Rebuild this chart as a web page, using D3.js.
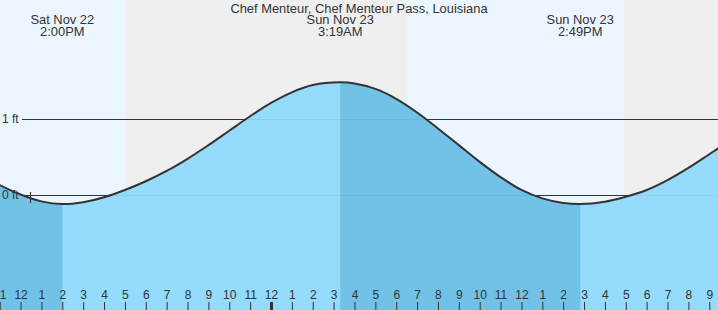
<!DOCTYPE html>
<html>
<head>
<meta charset="utf-8">
<script src="https://cdn.jsdelivr.net/npm/d3@7"></script>
<style>
  html, body { margin: 0; padding: 0; background: #fff; }
  svg { display: block; font-family: "Liberation Sans", Arial, sans-serif; }
  text { fill: #333; }
</style>
</head>
<body>
<svg id="chart" width="718" height="310"></svg>
<script>
// hours are counted from midnight, Sun Nov 23
var title = "Chef Menteur, Chef Menteur Pass, Louisiana";
var hours = d3.range(-13, 23);
var heights = [0.135, 0.01, -0.08, -0.115, -0.09, -0.025, 0.07, 0.185, 0.32, 0.48, 0.66, 0.85,
  1.04, 1.215, 1.355, 1.45, 1.485, 1.47, 1.40, 1.27, 1.09, 0.88, 0.66, 0.44, 0.24, 0.07,
  -0.04, -0.10, -0.115, -0.085, -0.02, 0.07, 0.20, 0.36, 0.54, 0.72];
var extremeTimes = [-10, 3.317, 14.817];
var extremeHeights = [-0.115, 1.486, -0.115];
var extremeDays = ["Sat Nov 22", "Sun Nov 23", "Sun Nov 23"];
var extremeLabels = ["2:00PM", "3:19AM", "2:49PM"];
var nightStart = [-7.0, 16.92];
var nightEnd = [6.52, 30];
var ftTicks = [0, 1];

var width = 718, height = 310;
var svg = d3.select("#chart");

var x = d3.scaleLinear().domain([-12.985, 21.418]).range([0, width]);
var y = d3.scaleLinear().domain([0, 1]).range([195.3, 119.3]);

// merge hourly points with the extremes
var pts = hours.map((h, i) => ({t: h, v: heights[i]}))
  .filter(p => !extremeTimes.some(e => Math.abs(e - p.t) < 0.45))
  .concat(extremeTimes.map((t, i) => ({t: t, v: extremeHeights[i]})))
  .sort((a, b) => a.t - b.t);

// day / night
svg.append("rect").attr("width", width).attr("height", height).attr("fill", "#ecf6ff");
svg.selectAll(".night").data(nightStart).enter().append("rect")
  .attr("x", d => x(d))
  .attr("width", (d, i) => x(nightEnd[i]) - x(d))
  .attr("y", 0).attr("height", height)
  .attr("fill", "#efefef");

function gridLines(op) {
  svg.append("g").selectAll("line").data(ftTicks).enter().append("line")
    .attr("x1", 22).attr("x2", width)
    .attr("y1", d => Math.round(y(d)) + 0.5).attr("y2", d => Math.round(y(d)) + 0.5)
    .attr("stroke", "#333").attr("stroke-opacity", op);
}
gridLines(1);

var curve = d3.curveCatmullRom.alpha(0.5);
var area = d3.area().x(d => x(d.t)).y0(height).y1(d => y(d.v)).curve(curve);
var line = d3.line().x(d => x(d.t)).y(d => y(d.v)).curve(curve);

svg.append("path").datum(pts).attr("d", area).attr("fill", "#94dbfc");

// falling tide is darker
var falls = [[-13, extremeTimes[0]], [extremeTimes[1], extremeTimes[2]]];
var defs = svg.append("defs");
falls.forEach((f, i) => {
  defs.append("clipPath").attr("id", "fall" + i).append("rect")
    .attr("x", x(f[0])).attr("width", x(f[1]) - x(f[0]))
    .attr("y", 0).attr("height", height);
  svg.append("path").datum(pts).attr("d", area).attr("fill", "#72c1e7")
    .attr("clip-path", "url(#fall" + i + ")");
});

gridLines(0.08);

svg.append("path").datum(pts).attr("d", line)
  .attr("fill", "none").attr("stroke", "#333").attr("stroke-width", 2);

// small marker near the 0 ft line
svg.append("line").attr("x1", 30.5).attr("x2", 30.5).attr("y1", 192).attr("y2", 203)
  .attr("stroke", "#333");

// axis labels
svg.selectAll(".ft").data(ftTicks).enter().append("text")
  .attr("x", 2).attr("y", d => y(d) + 4)
  .attr("font-size", 12)
  .text(d => d + " ft");

// bottom hour axis
var tickHours = d3.range(-13, 22);
var axis = svg.append("g").attr("transform", "translate(0," + height + ")")
  .call(d3.axisBottom(x).tickValues(tickHours).tickSize(-8).tickPadding(0)
    .tickFormat(h => ((h % 12) + 12) % 12 || 12));
axis.select(".domain").remove();
axis.selectAll(".tick line").attr("stroke", "#333")
  .attr("stroke-width", h => h === 0 ? 3 : 1);
axis.selectAll(".tick text")
  .attr("y", -11).attr("dy", 0)
  .attr("font-size", 12).attr("font-family", "Liberation Sans, Arial, sans-serif")
  .attr("fill", "#333");

// title and extreme labels
svg.append("text").attr("x", width / 2).attr("y", 12.5)
  .attr("text-anchor", "middle").attr("font-size", 12.9).text(title);

var lab = svg.selectAll(".ext").data(extremeTimes).enter().append("g");
lab.append("text").attr("x", d => x(d)).attr("y", 24)
  .attr("text-anchor", "middle").attr("font-size", 12.9)
  .text((d, i) => extremeDays[i]);
lab.append("text").attr("x", d => x(d)).attr("y", 36)
  .attr("text-anchor", "middle").attr("font-size", 12.9)
  .text((d, i) => extremeLabels[i]);
</script>
</body>
</html>
